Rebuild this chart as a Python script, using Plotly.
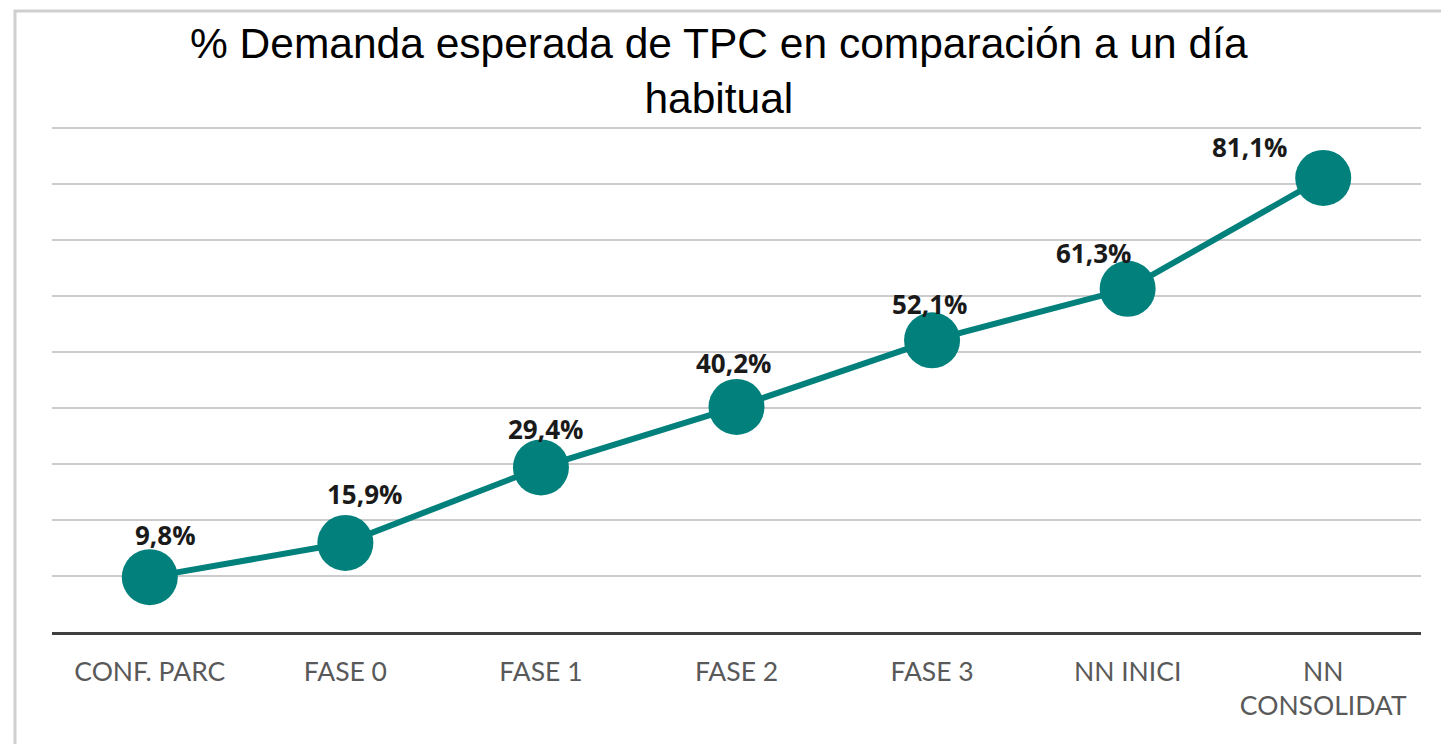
import plotly.graph_objects as go

categories = ["CONF. PARC", "FASE 0", "FASE 1", "FASE 2", "FASE 3", "NN INICI", "NN<br>CONSOLIDAT"]
values = [9.8, 15.9, 29.4, 40.2, 52.1, 61.3, 81.1]
value_labels = ["9,8%", "15,9%", "29,4%", "40,2%", "52,1%", "61,3%", "81,1%"]
title_text = "% Demanda esperada de TPC en comparación a un día<br>habitual"

# label offsets in pixels (style only)
label_dx = [16, 19, 5, -3, -3, -34, -74]
label_dy = [42, 49, 38, 44, 36, 36, 31]

teal = "#02807C"
plot_h = 505
plot_w = 1369

fig = go.Figure()
fig.add_trace(go.Scatter(
    x=categories, y=values, mode="lines+markers",
    line=dict(color=teal, width=6),
    marker=dict(color=teal, size=56),
    hoverinfo="skip", showlegend=False,
))

for c, v, t, dx, dy in zip(categories, values, value_labels, label_dx, label_dy):
    fig.add_annotation(
        x=c, y=v, text=f"<b>{t}</b>", showarrow=False,
        xshift=dx, yshift=dy,
        font=dict(family="Open Sans", size=26, color="#1a1a1a"),
    )

# title as annotation (multi-line)
fig.add_annotation(
    x=(719 - 52) / plot_w, xref="paper", xanchor="center",
    y=1 + (127 - 18) / plot_h, yref="paper", yanchor="top",
    text=title_text, showarrow=False,
    font=dict(family="Liberation Sans", size=42.5, color="#000000"),
)

fig.add_shape(type="rect", xref="paper", yref="paper",
              x0=-37 / plot_w, x1=1.05, y0=-0.3, y1=1.0 + (127 - 11) / plot_h,
              line=dict(color="#cfcfcf", width=3), fillcolor="rgba(0,0,0,0)", layer="below")

fig.update_layout(
    width=1441, height=744,
    margin=dict(l=52, r=20, t=127, b=112),
    paper_bgcolor="white", plot_bgcolor="white",
    xaxis=dict(
        type="category", range=[-0.5, 6.5],
        showgrid=False, zeroline=False,
        showline=True, linecolor="#404040", linewidth=3,
        ticks="", ticklabelstandoff=14,
        tickfont=dict(family="Lato", size=26.5, color="#595959"),
    ),
    yaxis=dict(
        range=[0, 90.2], tickvals=[10, 20, 30, 40, 50, 60, 70, 80, 90],
        showticklabels=False, showgrid=True, gridcolor="#cccccc", gridwidth=2,
        zeroline=False, showline=False, fixedrange=True,
    ),
)

fig.write_html("out.html", config={"displayModeBar": False},
               post_script="document.body.style.margin='0';")
